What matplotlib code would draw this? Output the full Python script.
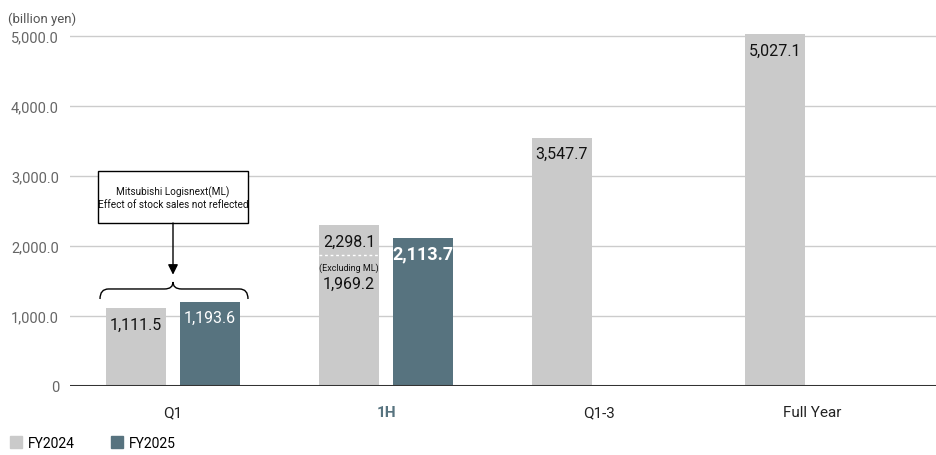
import matplotlib
matplotlib.use("Agg")
import matplotlib.pyplot as plt
from matplotlib.path import Path
from matplotlib.patches import PathPatch, Patch, Rectangle
import numpy as np

categories = ["Q1", "1H", "Q1-3", "Full Year"]
fy2024 = [1111.5, 2298.1, 3547.7, 5027.1]
fy2025 = [1193.6, 2113.7, None, None]
fy2024_labels = ["1,111.5", "2,298.1", "3,547.7", "5,027.1"]
fy2025_labels = ["1,193.6", "2,113.7"]
excl_ml_value = 1969.2
excl_ml_label = "1,969.2"
yticks = [0, 1000, 2000, 3000, 4000, 5000]
ytick_labels = ["0", "1,000.0", "2,000.0", "3,000.0", "4,000.0", "5,000.0"]

C24 = "#cacaca"
C25 = "#57737f"
plt.rcParams['font.family'] = ['Roboto', 'DejaVu Sans']

fig = plt.figure(figsize=(9.36, 4.56), dpi=100)
ax = fig.add_axes([70/936, 1-387/456, 1-70/936, (387-30)/456])

x = np.arange(len(categories))
w = 60/213
off = 37/213

ax.bar(x - off, fy2024, width=w, color=C24, zorder=2)
x25 = [xi + off for xi, v in zip(x, fy2025) if v is not None]
v25 = [v for v in fy2025 if v is not None]
ax.bar(x25, v25, width=w, color=C25, zorder=2)

ax.set_xlim((70-173)/213, (936-173)/213)
ax.set_ylim(0, 5100)
ax.set_yticks(yticks)
ax.set_yticklabels(ytick_labels, color="#666666", fontsize=10.5)
for yv in yticks[1:]:
    ax.axhline(yv, color="#cccccc", lw=1, zorder=1)
ax.axhline(0, color="#333333", lw=2.2, zorder=3)
ax.tick_params(axis='y', length=0, pad=8)
ax.tick_params(axis='x', length=0, pad=14)
ax.set_xticks(x)
ax.set_xticklabels(categories, fontsize=11, color="#222222")
ax.get_xticklabels()[1].set_color(C25)
ax.get_xticklabels()[1].set_fontweight("bold")
for s in ax.spines.values():
    s.set_visible(False)

# value labels
for i, (v, lab) in enumerate(zip(fy2024, fy2024_labels)):
    ax.annotate(lab, (x[i] - off, v), xytext=(0, -11.5), textcoords="offset points",
                ha="center", va="center", fontsize=11.5, color="#111111", zorder=4)
ax.annotate(fy2025_labels[0], (x25[0], v25[0]), xytext=(0, -11), textcoords="offset points",
            ha="center", va="center", fontsize=11.5, color="white", zorder=4)
ax.annotate(fy2025_labels[1], (x25[1], v25[1]), xytext=(0, -11), textcoords="offset points",
            ha="center", va="center", fontsize=13, color="white", fontweight="bold", zorder=4)

# 1H excluding ML
ax.hlines(1870, x[1] - off - w/2, x[1] - off + w/2, colors="white", linestyles=(0, (2, 2)), lw=1, zorder=4)
ax.annotate("(Excluding ML)", (x[1] - off, excl_ml_value), xytext=(0, -13.5), textcoords="offset points",
            ha="center", va="center", fontsize=6.5, color="#111111", zorder=4)
ax.annotate(excl_ml_label, (x[1] - off, excl_ml_value), xytext=(0, -25), textcoords="offset points",
            ha="center", va="center", fontsize=11.5, color="#111111", zorder=4)

# annotation box and arrow
bx0, bx1 = (98-173)/213, (248-173)/213
by0, by1 = 2329, 3071
ax.add_patch(Rectangle((bx0, by0), bx1 - bx0, by1 - by0, fc="white", ec="black", lw=1, zorder=5))
ax.text(0, (by0 + by1) / 2, "Mitsubishi Logisnext(ML)\nEffect of stock sales not reflected",
        ha="center", va="center", fontsize=7.2, color="#111111", linespacing=1.25, zorder=6)
ax.annotate("", xy=(0, 1590), xytext=(0, by0),
            arrowprops=dict(arrowstyle="-|>,head_length=0.6,head_width=0.3", color="black", lw=1,
                            shrinkA=0, shrinkB=0),
            zorder=5)

# brace
xl, xr = (100-173)/213, (248-173)/213
yb, ym, yt = 1243, 1386, 1486
dx = 0.04
verts = [(xl, yb), (xl, ym), (xl + dx, ym), (-dx, ym), (0, ym), (0, yt),
         (0, ym), (dx, ym), (xr - dx, ym), (xr, ym), (xr, yb)]
codes = [Path.MOVETO, Path.CURVE3, Path.CURVE3, Path.LINETO, Path.CURVE3, Path.CURVE3,
         Path.CURVE3, Path.CURVE3, Path.LINETO, Path.CURVE3, Path.CURVE3]
ax.add_patch(PathPatch(Path(verts, codes), fc="none", ec="black", lw=1, zorder=5))

# unit label
fig.text(8/936, 1-19/456, "(billion yen)", fontsize=9.5, color="#555555", ha="left", va="center")

# legend
handles = [Patch(color=C24), Patch(color=C25)]
fig.legend(handles, ["FY2024", "FY2025"], loc="lower left", bbox_to_anchor=(0.0, -0.01),
           ncol=2, frameon=False, fontsize=10, handlelength=0.9, handleheight=0.9,
           handletextpad=0.4, columnspacing=2.6, borderaxespad=0.3)

fig.savefig("out.png", dpi=100)
